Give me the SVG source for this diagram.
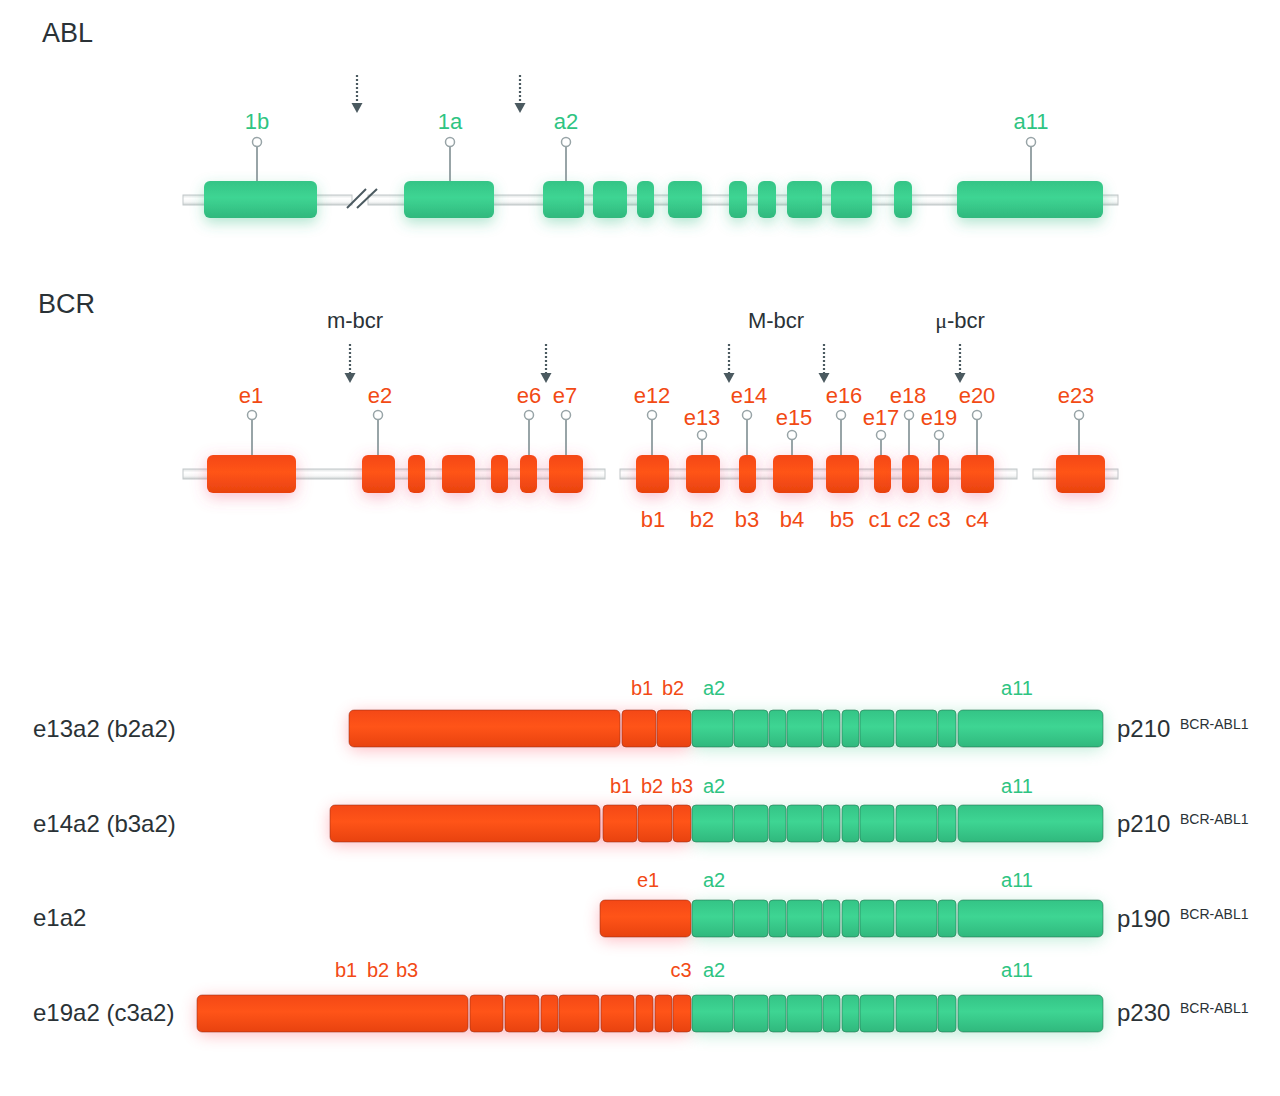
<svg xmlns="http://www.w3.org/2000/svg" width="1280" height="1096" viewBox="0 0 1280 1096">
<defs>
  <linearGradient id="gg" x1="0" y1="0" x2="0" y2="1">
    <stop offset="0" stop-color="#34c486"/>
    <stop offset="0.45" stop-color="#3ed593"/>
    <stop offset="1" stop-color="#30b87d"/>
  </linearGradient>
  <linearGradient id="rg" x1="0" y1="0" x2="0" y2="1">
    <stop offset="0" stop-color="#f44816"/>
    <stop offset="0.45" stop-color="#ff5418"/>
    <stop offset="1" stop-color="#e8420f"/>
  </linearGradient>
  <linearGradient id="bbg" x1="0" y1="0" x2="0" y2="1">
    <stop offset="0" stop-color="#dfe3e3"/>
    <stop offset="0.35" stop-color="#ffffff"/>
    <stop offset="0.7" stop-color="#f6f7f7"/>
    <stop offset="1" stop-color="#c9cfd0"/>
  </linearGradient>
  <filter id="glowG" x="-120%" y="-100%" width="340%" height="320%">
    <feGaussianBlur in="SourceAlpha" stdDeviation="7" result="b"/>
    <feOffset in="b" dy="5" result="o"/>
    <feFlood flood-color="#3fbf8a" flood-opacity="0.4"/>
    <feComposite in2="o" operator="in"/>
    <feMerge><feMergeNode/><feMergeNode in="SourceGraphic"/></feMerge>
  </filter>
  <filter id="glowR" x="-120%" y="-100%" width="340%" height="320%">
    <feGaussianBlur in="SourceAlpha" stdDeviation="8" result="b"/>
    <feOffset in="b" dy="4" result="o"/>
    <feFlood flood-color="#f0507a" flood-opacity="0.38"/>
    <feComposite in2="o" operator="in"/>
    <feMerge><feMergeNode/><feMergeNode in="SourceGraphic"/></feMerge>
  </filter>
  <filter id="blur" x="-20%" y="-100%" width="140%" height="300%">
    <feGaussianBlur stdDeviation="8"/>
  </filter>
  <marker id="ah" markerUnits="userSpaceOnUse" markerWidth="12" markerHeight="11" viewBox="0 0 12 11" refX="6" refY="0" orient="0">
    <path d="M0.5 0 L11.5 0 L6 10 Z" fill="#4b5a60"/>
  </marker>
  <style>
    .bb { fill:url(#bbg); stroke:#c2c8c9; stroke-width:1 }
    .g { fill:url(#gg); filter:url(#glowG) }
    .r { fill:url(#rg); filter:url(#glowR) }
    .sg { fill:url(#gg); stroke:#22704d; stroke-opacity:0.55; stroke-width:1 }
    .sr { fill:url(#rg); stroke:#8e2a14; stroke-opacity:0.5; stroke-width:1 }
    .stem { stroke:#98a4a7; stroke-width:2 }
    .pin { fill:#ffffff; stroke:#98a4a7; stroke-width:1.5 }
    .lg { fill:#2ec482; font-family:"Liberation Sans", Arial, sans-serif; font-size:22px; text-anchor:middle }
    .lr { fill:#f24a14; font-family:"Liberation Sans", Arial, sans-serif; font-size:22px; text-anchor:middle }
    .fg { fill:#2ec482; font-family:"Liberation Sans", Arial, sans-serif; font-size:20px; text-anchor:middle }
    .fr { fill:#f24a14; font-family:"Liberation Sans", Arial, sans-serif; font-size:20px; text-anchor:middle }
    .title { fill:#2a3236; font-family:"Liberation Sans", Arial, sans-serif; font-size:27px }
    .reg { fill:#2a3236; font-family:"Liberation Sans", Arial, sans-serif; font-size:22px; text-anchor:middle }
    .name { fill:#2a3236; font-family:"Liberation Sans", Arial, sans-serif; font-size:24px }
    .prot { fill:#2a3236; font-family:"Liberation Sans", Arial, sans-serif; font-size:24px }
    .sup { fill:#2a3236; font-family:"Liberation Sans", Arial, sans-serif; font-size:14px }
    .arr { stroke:#4b5a60; stroke-width:2.2; stroke-dasharray:2 2; fill:none; marker-end:url(#ah) }
    .brk { stroke:#4b5a60; stroke-width:2 }
  </style>
</defs>
<rect width="1280" height="1096" fill="#ffffff"/>

<text class="title" x="42" y="42">ABL</text>
<text class="title" x="38" y="313">BCR</text>

<!-- connectors: backbones, break marks, breakpoint arrows -->
<g id="connectors">
  <rect class="bb" x="183" y="195" width="169" height="10"/>
  <rect class="bb" x="368" y="195" width="750" height="10"/>
  <line class="brk" x1="347" y1="208" x2="366" y2="189"/>
  <line class="brk" x1="357" y1="208" x2="377" y2="189"/>
  <rect class="bb" x="183" y="469" width="422" height="10"/>
  <rect class="bb" x="620" y="469" width="397" height="10"/>
  <rect class="bb" x="1033" y="469" width="85" height="10"/>
  <line class="arr" x1="357" y1="75" x2="357" y2="103"/>
  <line class="arr" x1="520" y1="75" x2="520" y2="103"/>
  <line class="arr" x1="350" y1="344" x2="350" y2="373"/>
  <line class="arr" x1="546" y1="344" x2="546" y2="373"/>
  <line class="arr" x1="729" y1="344" x2="729" y2="373"/>
  <line class="arr" x1="824" y1="344" x2="824" y2="373"/>
  <line class="arr" x1="960" y1="344" x2="960" y2="373"/>
</g>

<text class="reg" x="355" y="328">m-bcr</text>
<text class="reg" x="776" y="328">M-bcr</text>
<text class="reg" x="960" y="328"><tspan font-family="Liberation Serif, serif">μ</tspan>-bcr</text>

<!-- ABL exons -->
<g id="abl-1b"><rect class="g" x="204" y="181" width="113" height="37" rx="6"/><line class="stem" x1="257" y1="146" x2="257" y2="181"/><circle class="pin" cx="257" cy="142" r="4.5"/><text class="lg" x="257" y="129">1b</text></g>
<g id="abl-1a"><rect class="g" x="404" y="181" width="90" height="37" rx="6"/><line class="stem" x1="450" y1="146" x2="450" y2="181"/><circle class="pin" cx="450" cy="142" r="4.5"/><text class="lg" x="450" y="129">1a</text></g>
<g id="abl-a2"><rect class="g" x="543" y="181" width="41" height="37" rx="6"/><line class="stem" x1="566" y1="146" x2="566" y2="181"/><circle class="pin" cx="566" cy="142" r="4.5"/><text class="lg" x="566" y="129">a2</text></g>
<g id="abl-a3"><rect class="g" x="593" y="181" width="34" height="37" rx="6"/></g>
<g id="abl-a4"><rect class="g" x="637" y="181" width="17" height="37" rx="6"/></g>
<g id="abl-a5"><rect class="g" x="668" y="181" width="34" height="37" rx="6"/></g>
<g id="abl-a6"><rect class="g" x="729" y="181" width="18" height="37" rx="6"/></g>
<g id="abl-a7"><rect class="g" x="758" y="181" width="18" height="37" rx="6"/></g>
<g id="abl-a8"><rect class="g" x="787" y="181" width="35" height="37" rx="6"/></g>
<g id="abl-a9"><rect class="g" x="831" y="181" width="41" height="37" rx="6"/></g>
<g id="abl-a10"><rect class="g" x="894" y="181" width="18" height="37" rx="6"/></g>
<g id="abl-a11"><rect class="g" x="957" y="181" width="146" height="37" rx="6"/><line class="stem" x1="1031" y1="146" x2="1031" y2="181"/><circle class="pin" cx="1031" cy="142" r="4.5"/><text class="lg" x="1031" y="129">a11</text></g>

<!-- BCR exons -->
<g id="bcr-e1"><rect class="r" x="207" y="455" width="89" height="38" rx="6"/><line class="stem" x1="252" y1="419.5" x2="252" y2="455"/><circle class="pin" cx="252" cy="415" r="4.5"/><text class="lr" x="251" y="403">e1</text></g>
<g id="bcr-e2"><rect class="r" x="362" y="455" width="33" height="38" rx="6"/><line class="stem" x1="378" y1="419.5" x2="378" y2="455"/><circle class="pin" cx="378" cy="415" r="4.5"/><text class="lr" x="380" y="403">e2</text></g>
<g id="bcr-e3"><rect class="r" x="408" y="455" width="17" height="38" rx="6"/></g>
<g id="bcr-e4"><rect class="r" x="442" y="455" width="33" height="38" rx="6"/></g>
<g id="bcr-e5"><rect class="r" x="491" y="455" width="17" height="38" rx="6"/></g>
<g id="bcr-e6"><rect class="r" x="520" y="455" width="17" height="38" rx="6"/><line class="stem" x1="529" y1="419.5" x2="529" y2="455"/><circle class="pin" cx="529" cy="415" r="4.5"/><text class="lr" x="529" y="403">e6</text></g>
<g id="bcr-e7"><rect class="r" x="549" y="455" width="34" height="38" rx="6"/><line class="stem" x1="566" y1="419.5" x2="566" y2="455"/><circle class="pin" cx="566" cy="415" r="4.5"/><text class="lr" x="565" y="403">e7</text></g>
<g id="bcr-e12"><rect class="r" x="636" y="455" width="33" height="38" rx="6"/><line class="stem" x1="652" y1="419.5" x2="652" y2="455"/><circle class="pin" cx="652" cy="415" r="4.5"/><text class="lr" x="652" y="403">e12</text><text class="lr" x="653" y="527">b1</text></g>
<g id="bcr-e13"><rect class="r" x="686" y="455" width="34" height="38" rx="6"/><line class="stem" x1="702" y1="439.5" x2="702" y2="455"/><circle class="pin" cx="702" cy="435" r="4.5"/><text class="lr" x="702" y="425">e13</text><text class="lr" x="702" y="527">b2</text></g>
<g id="bcr-e14"><rect class="r" x="739" y="455" width="17" height="38" rx="6"/><line class="stem" x1="747" y1="419.5" x2="747" y2="455"/><circle class="pin" cx="747" cy="415" r="4.5"/><text class="lr" x="749" y="403">e14</text><text class="lr" x="747" y="527">b3</text></g>
<g id="bcr-e15"><rect class="r" x="773" y="455" width="40" height="38" rx="6"/><line class="stem" x1="792" y1="439.5" x2="792" y2="455"/><circle class="pin" cx="792" cy="435" r="4.5"/><text class="lr" x="794" y="425">e15</text><text class="lr" x="792" y="527">b4</text></g>
<g id="bcr-e16"><rect class="r" x="826" y="455" width="33" height="38" rx="6"/><line class="stem" x1="841" y1="419.5" x2="841" y2="455"/><circle class="pin" cx="841" cy="415" r="4.5"/><text class="lr" x="844" y="403">e16</text><text class="lr" x="842" y="527">b5</text></g>
<g id="bcr-e17"><rect class="r" x="874" y="455" width="17" height="38" rx="6"/><line class="stem" x1="881" y1="439.5" x2="881" y2="455"/><circle class="pin" cx="881" cy="435" r="4.5"/><text class="lr" x="881" y="425">e17</text><text class="lr" x="880" y="527">c1</text></g>
<g id="bcr-e18"><rect class="r" x="902" y="455" width="17" height="38" rx="6"/><line class="stem" x1="909" y1="419.5" x2="909" y2="455"/><circle class="pin" cx="909" cy="415" r="4.5"/><text class="lr" x="908" y="403">e18</text><text class="lr" x="909" y="527">c2</text></g>
<g id="bcr-e19"><rect class="r" x="932" y="455" width="17" height="38" rx="6"/><line class="stem" x1="939" y1="439.5" x2="939" y2="455"/><circle class="pin" cx="939" cy="435" r="4.5"/><text class="lr" x="939" y="425">e19</text><text class="lr" x="939" y="527">c3</text></g>
<g id="bcr-e20"><rect class="r" x="961" y="455" width="33" height="38" rx="6"/><line class="stem" x1="977" y1="419.5" x2="977" y2="455"/><circle class="pin" cx="977" cy="415" r="4.5"/><text class="lr" x="977" y="403">e20</text><text class="lr" x="977" y="527">c4</text></g>
<g id="bcr-e23"><rect class="r" x="1056" y="455" width="49" height="38" rx="6"/><line class="stem" x1="1079" y1="419.5" x2="1079" y2="455"/><circle class="pin" cx="1079" cy="415" r="4.5"/><text class="lr" x="1076" y="403">e23</text></g>

<!-- Fusion 1: e13a2 -->
<g id="fusion-e13a2">
  <rect x="349" y="713" width="342" height="37" rx="8" fill="#ff6a7a" opacity="0.45" filter="url(#blur)"/>
  <rect x="692" y="713" width="411" height="37" rx="8" fill="#5ccf9c" opacity="0.38" filter="url(#blur)"/>
  <rect class="sr" x="349" y="710" width="271" height="37" rx="5"/>
  <rect class="sr" x="622" y="710" width="34" height="37" rx="4"/>
  <rect class="sr" x="657" y="710" width="34" height="37" rx="4"/>
  <g id="green-row1">
    <rect class="sg" x="692" y="710" width="41" height="37" rx="4"/>
    <rect class="sg" x="734" y="710" width="34" height="37" rx="4"/>
    <rect class="sg" x="769" y="710" width="17" height="37" rx="4"/>
    <rect class="sg" x="787" y="710" width="35" height="37" rx="4"/>
    <rect class="sg" x="823" y="710" width="17" height="37" rx="4"/>
    <rect class="sg" x="842" y="710" width="17" height="37" rx="4"/>
    <rect class="sg" x="860" y="710" width="34" height="37" rx="4"/>
    <rect class="sg" x="896" y="710" width="41" height="37" rx="4"/>
    <rect class="sg" x="938" y="710" width="18" height="37" rx="4"/>
    <rect class="sg" x="958" y="710" width="145" height="37" rx="5"/>
  </g>
  <text class="fr" x="642" y="695">b1</text>
  <text class="fr" x="673" y="695">b2</text>
  <text class="fg" x="714" y="695">a2</text>
  <text class="fg" x="1017" y="695">a11</text>
  <text class="name" x="33" y="737">e13a2 (b2a2)</text>
  <text class="prot" x="1117" y="737">p210</text>
  <text class="sup" x="1180" y="729">BCR-ABL1</text>
</g>

<!-- Fusion 2: e14a2 -->
<g id="fusion-e14a2">
  <rect x="330" y="808" width="361" height="37" rx="8" fill="#ff6a7a" opacity="0.45" filter="url(#blur)"/>
  <rect x="692" y="808" width="411" height="37" rx="8" fill="#5ccf9c" opacity="0.38" filter="url(#blur)"/>
  <rect class="sr" x="330" y="805" width="270" height="37" rx="5"/>
  <rect class="sr" x="603" y="805" width="34" height="37" rx="4"/>
  <rect class="sr" x="638" y="805" width="34" height="37" rx="4"/>
  <rect class="sr" x="673" y="805" width="18" height="37" rx="4"/>
  <g id="green-row2">
    <rect class="sg" x="692" y="805" width="41" height="37" rx="4"/>
    <rect class="sg" x="734" y="805" width="34" height="37" rx="4"/>
    <rect class="sg" x="769" y="805" width="17" height="37" rx="4"/>
    <rect class="sg" x="787" y="805" width="35" height="37" rx="4"/>
    <rect class="sg" x="823" y="805" width="17" height="37" rx="4"/>
    <rect class="sg" x="842" y="805" width="17" height="37" rx="4"/>
    <rect class="sg" x="860" y="805" width="34" height="37" rx="4"/>
    <rect class="sg" x="896" y="805" width="41" height="37" rx="4"/>
    <rect class="sg" x="938" y="805" width="18" height="37" rx="4"/>
    <rect class="sg" x="958" y="805" width="145" height="37" rx="5"/>
  </g>
  <text class="fr" x="621" y="793">b1</text>
  <text class="fr" x="652" y="793">b2</text>
  <text class="fr" x="682" y="793">b3</text>
  <text class="fg" x="714" y="793">a2</text>
  <text class="fg" x="1017" y="793">a11</text>
  <text class="name" x="33" y="832">e14a2 (b3a2)</text>
  <text class="prot" x="1117" y="832">p210</text>
  <text class="sup" x="1180" y="824">BCR-ABL1</text>
</g>

<!-- Fusion 3: e1a2 -->
<g id="fusion-e1a2">
  <rect x="600" y="903" width="91" height="37" rx="8" fill="#ff6a7a" opacity="0.45" filter="url(#blur)"/>
  <rect x="692" y="903" width="411" height="37" rx="8" fill="#5ccf9c" opacity="0.38" filter="url(#blur)"/>
  <rect class="sr" x="600" y="900" width="91" height="37" rx="5"/>
  <g id="green-row3">
    <rect class="sg" x="692" y="900" width="41" height="37" rx="4"/>
    <rect class="sg" x="734" y="900" width="34" height="37" rx="4"/>
    <rect class="sg" x="769" y="900" width="17" height="37" rx="4"/>
    <rect class="sg" x="787" y="900" width="35" height="37" rx="4"/>
    <rect class="sg" x="823" y="900" width="17" height="37" rx="4"/>
    <rect class="sg" x="842" y="900" width="17" height="37" rx="4"/>
    <rect class="sg" x="860" y="900" width="34" height="37" rx="4"/>
    <rect class="sg" x="896" y="900" width="41" height="37" rx="4"/>
    <rect class="sg" x="938" y="900" width="18" height="37" rx="4"/>
    <rect class="sg" x="958" y="900" width="145" height="37" rx="5"/>
  </g>
  <text class="fr" x="648" y="887">e1</text>
  <text class="fg" x="714" y="887">a2</text>
  <text class="fg" x="1017" y="887">a11</text>
  <text class="name" x="33" y="926">e1a2</text>
  <text class="prot" x="1117" y="927">p190</text>
  <text class="sup" x="1180" y="919">BCR-ABL1</text>
</g>

<!-- Fusion 4: e19a2 -->
<g id="fusion-e19a2">
  <rect x="197" y="998" width="494" height="37" rx="8" fill="#ff6a7a" opacity="0.45" filter="url(#blur)"/>
  <rect x="692" y="998" width="411" height="37" rx="8" fill="#5ccf9c" opacity="0.38" filter="url(#blur)"/>
  <rect class="sr" x="197" y="995" width="271" height="37" rx="5"/>
  <rect class="sr" x="470" y="995" width="33" height="37" rx="4"/>
  <rect class="sr" x="505" y="995" width="34" height="37" rx="4"/>
  <rect class="sr" x="541" y="995" width="17" height="37" rx="4"/>
  <rect class="sr" x="559" y="995" width="40" height="37" rx="4"/>
  <rect class="sr" x="601" y="995" width="33" height="37" rx="4"/>
  <rect class="sr" x="636" y="995" width="17" height="37" rx="4"/>
  <rect class="sr" x="655" y="995" width="17" height="37" rx="4"/>
  <rect class="sr" x="673" y="995" width="18" height="37" rx="4"/>
  <g id="green-row4">
    <rect class="sg" x="692" y="995" width="41" height="37" rx="4"/>
    <rect class="sg" x="734" y="995" width="34" height="37" rx="4"/>
    <rect class="sg" x="769" y="995" width="17" height="37" rx="4"/>
    <rect class="sg" x="787" y="995" width="35" height="37" rx="4"/>
    <rect class="sg" x="823" y="995" width="17" height="37" rx="4"/>
    <rect class="sg" x="842" y="995" width="17" height="37" rx="4"/>
    <rect class="sg" x="860" y="995" width="34" height="37" rx="4"/>
    <rect class="sg" x="896" y="995" width="41" height="37" rx="4"/>
    <rect class="sg" x="938" y="995" width="18" height="37" rx="4"/>
    <rect class="sg" x="958" y="995" width="145" height="37" rx="5"/>
  </g>
  <text class="fr" x="346" y="977">b1</text>
  <text class="fr" x="378" y="977">b2</text>
  <text class="fr" x="407" y="977">b3</text>
  <text class="fr" x="681" y="977">c3</text>
  <text class="fg" x="714" y="977">a2</text>
  <text class="fg" x="1017" y="977">a11</text>
  <text class="name" x="33" y="1021">e19a2 (c3a2)</text>
  <text class="prot" x="1117" y="1021">p230</text>
  <text class="sup" x="1180" y="1013">BCR-ABL1</text>
</g>
</svg>
